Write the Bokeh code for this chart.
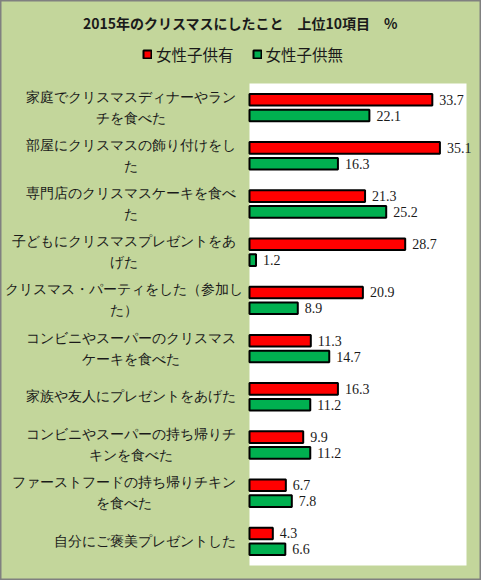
from bokeh.plotting import figure
from bokeh.models import Range1d, ColumnDataSource, LabelSet, Label, Legend, LegendItem, BoxAnnotation
from bokeh.transform import dodge
from bokeh.embed import file_html
from bokeh.resources import INLINE

title_text = "2015年のクリスマスにしたこと\u3000上位10項目\u3000%"
series_names = ["女性子供有", "女性子供無"]
categories = [
    "家庭でクリスマスディナーやランチを食べた",
    "部屋にクリスマスの飾り付けをした",
    "専門店のクリスマスケーキを食べた",
    "子どもにクリスマスプレゼントをあげた",
    "クリスマス・パーティをした（参加した）",
    "コンビニやスーパーのクリスマスケーキを食べた",
    "家族や友人にプレゼントをあげた",
    "コンビニやスーパーの持ち帰りチキンを食べた",
    "ファーストフードの持ち帰りチキンを食べた",
    "自分にご褒美プレゼントした",
]
category_labels = [
    "家庭でクリスマスディナーやラン\nチを食べた",
    "部屋にクリスマスの飾り付けをし\nた",
    "専門店のクリスマスケーキを食べ\nた",
    "子どもにクリスマスプレゼントをあ\nげた",
    "クリスマス・パーティをした（参加し\nた）",
    "コンビニやスーパーのクリスマス\nケーキを食べた",
    "家族や友人にプレゼントをあげた",
    "コンビニやスーパーの持ち帰りチ\nキンを食べた",
    "ファーストフードの持ち帰りチキン\nを食べた",
    "自分にご褒美プレゼントした",
]
with_children = [33.7, 35.1, 21.3, 28.7, 20.9, 11.3, 16.3, 9.9, 6.7, 4.3]
without_children = [22.1, 16.3, 25.2, 1.2, 8.9, 14.7, 11.2, 11.2, 7.8, 6.6]
colors = ["#FF0000", "#00B050"]
x_axis_max = 40

JP = "Noto Sans CJK JP"
TXT = "#1a1a1a"
BG = "#C3D69B"

# layout (pixels) of the original chart
W, H = 481, 580
PA_LEFT, PA_RIGHT, PA_TOP, PA_BOTTOM = 249, 466, 83, 565
LABEL_FS = 14
LABEL_RIGHT = 235
LINE_H = 21

n = len(categories)
xscale = (PA_RIGHT - PA_LEFT) / x_axis_max
yscale = (PA_BOTTOM - PA_TOP) / n
x_range = Range1d(-PA_LEFT / xscale, x_axis_max + (W - PA_RIGHT) / xscale)
y_range = Range1d(-(H - PA_BOTTOM) / yscale, n + PA_TOP / yscale)

p = figure(width=W, height=H, output_backend="svg", toolbar_location=None,
           x_range=x_range, y_range=y_range,
           x_axis_location=None, y_axis_location=None,
           min_border=0, min_border_left=0, min_border_right=0,
           min_border_top=0, min_border_bottom=0)
p.grid.visible = False
p.background_fill_color = BG
p.border_fill_color = BG
p.outline_line_color = "#808080"
p.outline_line_width = 2

# plot area
p.add_layout(BoxAnnotation(left=0, right=x_axis_max, bottom=0, top=n,
                           fill_color="white", fill_alpha=1, line_color=None, level="underlay"))

ypos = [n - i - 0.5 for i in range(n)]  # first category at top
source = ColumnDataSource(dict(
    cat=categories,
    y=ypos,
    a=with_children,
    b=without_children,
    a_txt=[f"{v:.1f}" for v in with_children],
    b_txt=[f"{v:.1f}" for v in without_children],
))

off = 0.164
r1 = p.hbar(y=dodge("y", off), left=0, right="a", height=0.24,
            fill_color=colors[0], line_color="black", line_width=2, source=source)
r2 = p.hbar(y=dodge("y", -off), left=0, right="b", height=0.24,
            fill_color=colors[1], line_color="black", line_width=2, source=source)

for col, txt, o in (("a", "a_txt", off), ("b", "b_txt", -off)):
    p.add_layout(LabelSet(x=col, y=dodge("y", o), text=txt, source=source,
                          x_offset=7, text_baseline="middle", text_align="left",
                          text_font_size="14px", text_font=JP, text_color=TXT))

p.add_layout(Label(x=240, y=H - 22, x_units="screen", y_units="screen", text=title_text,
                   text_align="center", text_baseline="middle", text_font_style="bold",
                   text_font_size="14px", text_font=JP, text_color=TXT))

# category labels: block right-aligned, each line centred (full-width glyphs are 1em wide)
lx, ly, ldy, ltxt = [], [], [], []
for y, lab in zip(ypos, category_labels):
    lines = lab.split("\n")
    w = max(len(s) for s in lines) * LABEL_FS
    cx = max(LABEL_RIGHT - w / 2, 4 + w / 2)
    m = len(lines)
    for j, s in enumerate(lines):
        lx.append(cx)
        ly.append(y)
        ldy.append(((m - 1) / 2 - j) * LINE_H)
        ltxt.append(s)
lab_src = ColumnDataSource(dict(x=lx, y=ly, dy=ldy, lab=ltxt))
p.add_layout(LabelSet(x="x", y="y", x_units="screen", y_offset="dy", text="lab", source=lab_src,
                      text_align="center", text_baseline="middle",
                      text_font_size=f"{LABEL_FS}px", text_font=JP, text_color=TXT))

legend = Legend(items=[LegendItem(label=series_names[0], renderers=[r1]),
                       LegendItem(label=series_names[1], renderers=[r2])],
                orientation="horizontal", location=(142, H - 65), padding=0, margin=0,
                spacing=18, label_standoff=4, glyph_width=10, glyph_height=10,
                label_height=20, label_text_font_size="15.5px", label_text_font=JP,
                label_text_color=TXT, background_fill_alpha=0, border_line_color=None)
p.add_layout(legend)

open("out.html", "w").write(file_html(p, INLINE))
